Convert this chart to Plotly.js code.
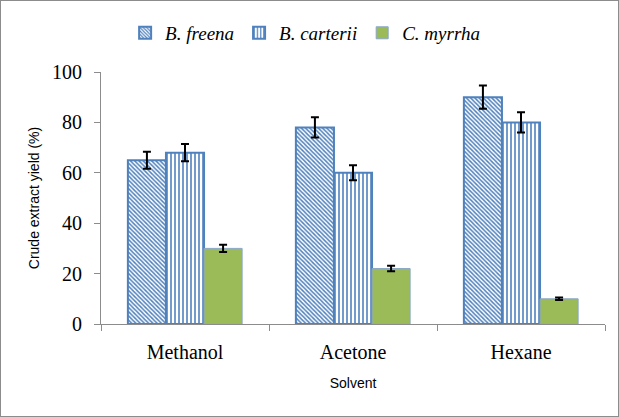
<!DOCTYPE html>
<html><head><meta charset="utf-8">
<script src="https://cdn.plot.ly/plotly-3.0.1.min.js"></script>
<style>html,body{margin:0;padding:0;background:#fff}#c{width:617px;height:415px;border:1px solid #8c8c8c}</style>
</head><body><div id="c"></div>
<script>
const solvents = ["Methanol", "Acetone", "Hexane"];
const seriesNames = ["B. freena", "B. carterii", "C. myrrha"];
const freena = [65, 78, 90];
const freenaErr = [3.4, 4.0, 4.6];
const carterii = [68, 60, 80];
const carteriiErr = [3.4, 3.0, 4.0];
const myrrha = [30, 22, 10];
const myrrhaErr = [1.4, 1.1, 0.5];
const yTicks = [0, 20, 40, 60, 80, 100];

const serif = "'Liberation Serif', 'Times New Roman', serif";
const sans = "'Liberation Sans', Arial, sans-serif";
const errStyle = {type: "data", visible: true, color: "#000", thickness: 2, width: 4};
const blue = "#4F81BD";
const traces = [
  {type: "bar", name: "<i>" + seriesNames[0] + "</i>", x: solvents, y: freena,
   error_y: Object.assign({array: freenaErr}, errStyle),
   marker: {color: "#fff", line: {color: blue, width: 2},
            pattern: {shape: "\\", fgcolor: blue, bgcolor: "#fff", size: 3, solidity: 0.5}}},
  {type: "bar", name: "<i>" + seriesNames[1] + "</i>", x: solvents, y: carterii,
   error_y: Object.assign({array: carteriiErr}, errStyle),
   marker: {color: "#fff", line: {color: blue, width: 2},
            pattern: {shape: "|", fgcolor: blue, bgcolor: "#fff", size: 4, solidity: 0.4}}},
  {type: "bar", name: "<i>" + seriesNames[2] + "</i>", x: solvents, y: myrrha,
   error_y: Object.assign({array: myrrhaErr}, errStyle),
   marker: {color: "#9BBB59", line: {color: "#8aa6c9", width: 1}}}
];
const layout = {
  width: 617, height: 415,
  margin: {l: 100, r: 13, t: 71, b: 92},
  paper_bgcolor: "#fff", plot_bgcolor: "#fff",
  barmode: "group", bargap: 0.32, bargroupgap: 0,
  showlegend: true,
  legend: {orientation: "h", x: 0.405, xanchor: "center", y: 1.155, yanchor: "middle",
           font: {family: serif, size: 19, color: "#000"},
           itemwidth: 30, tracegroupgap: 0},
  xaxis: {showline: true, linecolor: "#8c8c8c", linewidth: 1, ticks: "outside", tickson: "boundaries",
          ticklen: 6, tickcolor: "#8c8c8c", ticklabelstandoff: 10,
          tickfont: {family: serif, size: 20, color: "#000"},
          title: {text: "Solvent", font: {family: sans, size: 14, color: "#000"}, standoff: 16}},
  yaxis: {range: [0, 100], tickvals: yTicks, showline: true, linecolor: "#8c8c8c", linewidth: 1,
          ticks: "outside", ticklen: 6, tickcolor: "#8c8c8c", showgrid: false, zeroline: false,
          ticklabelstandoff: 8,
          tickfont: {family: serif, size: 20, color: "#000"},
          title: {text: "Crude extract yield (%)", font: {family: sans, size: 14, color: "#000"}, standoff: 9}}
};
Plotly.newPlot("c", traces, layout, {displayModeBar: false});
</script></body></html>
